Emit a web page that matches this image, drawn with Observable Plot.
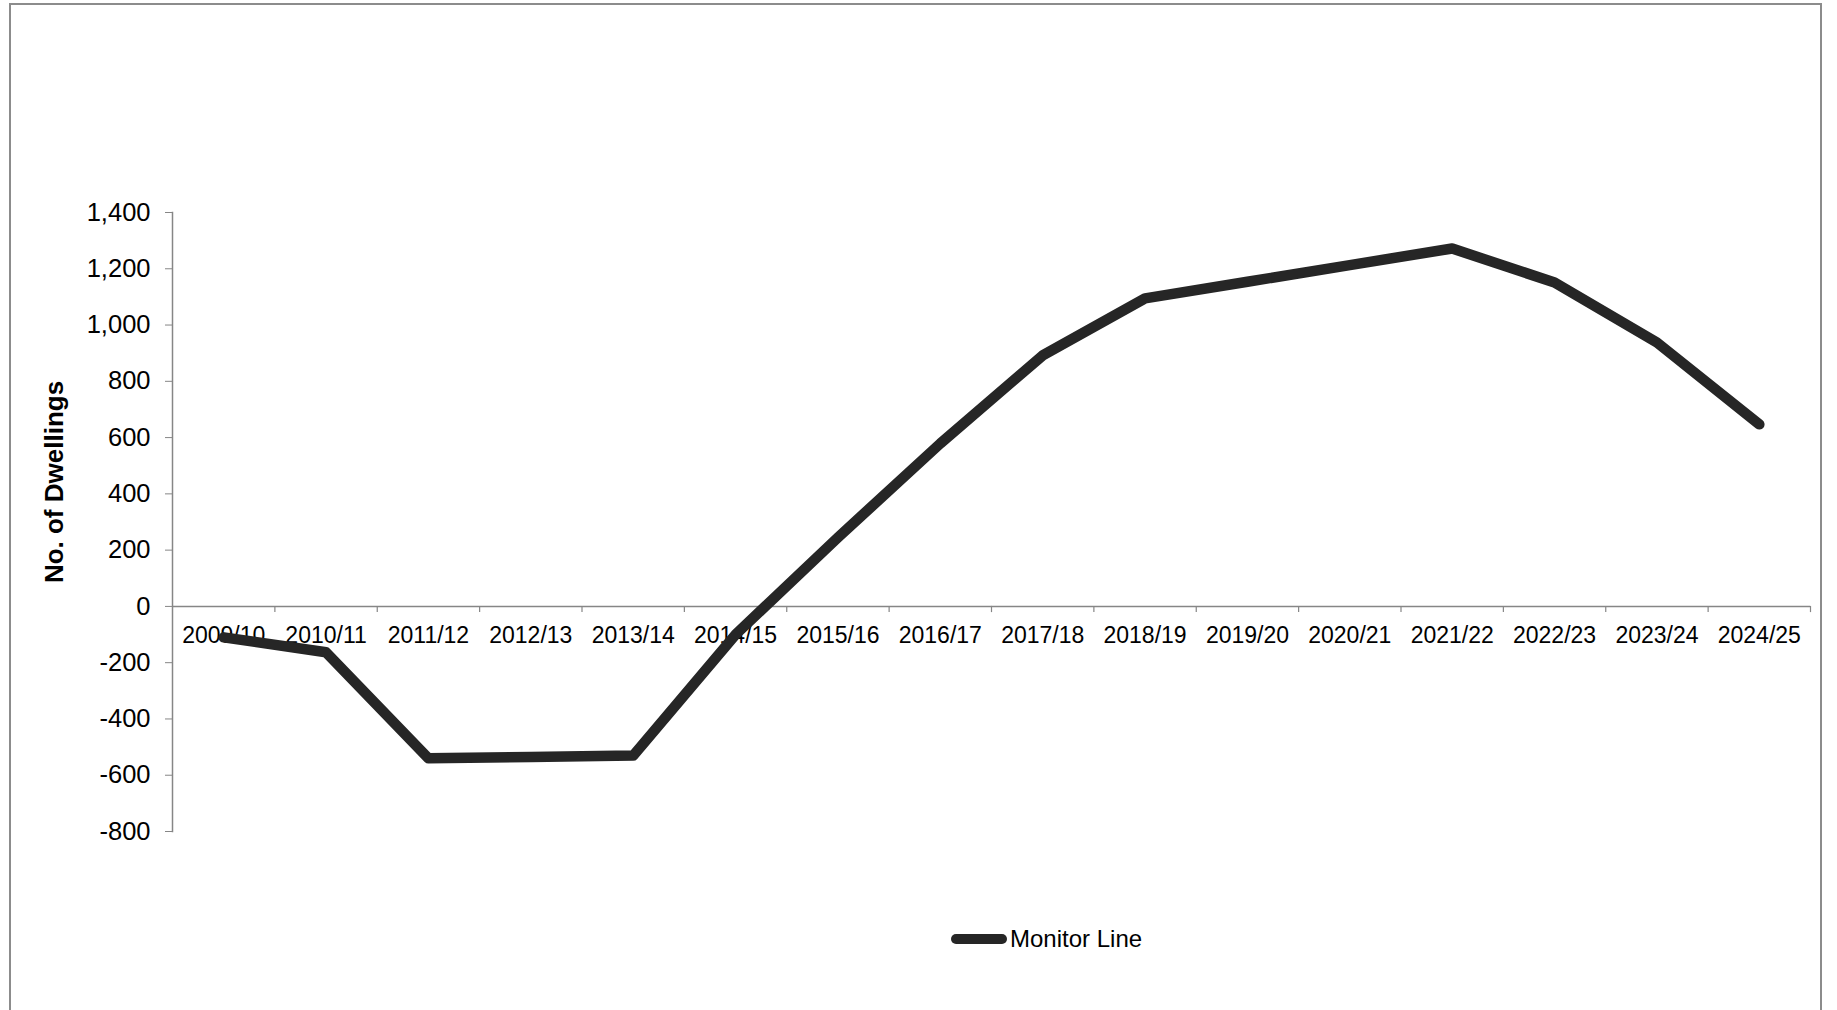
<!DOCTYPE html>
<html>
<head>
<meta charset="utf-8">
<script src="https://cdn.jsdelivr.net/npm/d3@7"></script>
<script src="https://cdn.jsdelivr.net/npm/@observablehq/plot@0.6"></script>
<style>
  html, body { margin: 0; padding: 0; background: #fff; }
  body { width: 1837px; height: 1010px; position: relative; overflow: hidden; font-family: "Liberation Sans", Arial, sans-serif; }
  #border { position: absolute; left: 9px; top: 3px; width: 1813px; height: 1100px; border: 2px solid #8c8c8c; box-sizing: border-box; }
  #chart { position: absolute; left: 0; top: 0; }
  #ytitle { position: absolute; left: 54px; top: 482px; transform: translate(-50%, -50%) rotate(-90deg); font-weight: bold; font-size: 26px; white-space: nowrap; color: #000; }
  #legend { position: absolute; left: 951px; top: 923px; height: 32px; display: flex; align-items: center; font-size: 24px; color: #000; }
  #legend .swatch { width: 56px; height: 10px; border-radius: 5px; background: #262626; margin-right: 3px; }
</style>
</head>
<body>
<div id="border"></div>
<div id="chart"></div>
<div id="ytitle">No. of Dwellings</div>
<div id="legend"><span class="swatch"></span><span id="legendLabel"></span></div>
<script>
const categories = ["2009/10","2010/11","2011/12","2012/13","2013/14","2014/15","2015/16","2016/17","2017/18","2018/19","2019/20","2020/21","2021/22","2022/23","2023/24","2024/25"];
const monitorLine = [-110, -163, -540, -535, -530, -100, 245, 579, 892, 1095, 1154, 1213, 1272, 1151, 938, 647];
const yTicks = [-800, -600, -400, -200, 0, 200, 400, 600, 800, 1000, 1200, 1400];
const seriesName = "Monitor Line";

const boundaries = d3.range(1, categories.length + 1);
const axisGray = "#868686";

const chart = Plot.plot({
  width: 1837,
  height: 880,
  marginLeft: 172,
  marginRight: 27,
  marginTop: 212,
  marginBottom: 49,
  style: { fontFamily: "'Liberation Sans', Arial, sans-serif", background: "transparent", color: "#000" },
  x: { domain: [0, categories.length], axis: null },
  y: { domain: [yTicks[0], yTicks[yTicks.length - 1]], axis: null },
  marks: [
    Plot.axisY(yTicks, {
      anchor: "left",
      tickSize: 7,
      tickPadding: 15,
      tickFormat: d => d.toLocaleString("en-US"),
      fontSize: 25.5,
      stroke: axisGray,
      fill: "#000",
      label: null
    }),
    Plot.frame({ anchor: "left", stroke: axisGray, strokeWidth: 1.5 }),
    Plot.ruleY([0], { stroke: axisGray, strokeWidth: 1.5 }),
    Plot.ruleX(boundaries, { x: d => d, y1: 0, y2: -22, stroke: axisGray, strokeWidth: 1.2 }),
    Plot.text(categories, { x: (d, i) => i + 0.5, y: () => 0, text: d => d, dy: 29, fontSize: 23, fill: "#000" }),
    Plot.line(monitorLine, {
      x: (d, i) => i + 0.5,
      y: d => d,
      stroke: "#262626",
      strokeWidth: 10.5,
      strokeLinecap: "round",
      strokeLinejoin: "round"
    })
  ]
});
document.getElementById("chart").appendChild(chart);
document.getElementById("legendLabel").textContent = seriesName;
</script>
</body>
</html>
